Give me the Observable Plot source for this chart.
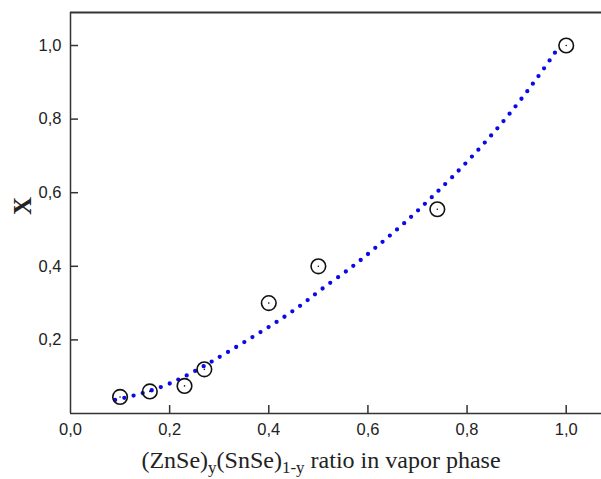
<!DOCTYPE html>
<html>
<head>
<meta charset="utf-8">
<script src="https://cdn.jsdelivr.net/npm/d3@7"></script>
<script src="https://cdn.jsdelivr.net/npm/@observablehq/plot@0.6"></script>
<style>
  html, body { margin: 0; padding: 0; background: #fff; }
  #chart svg { display: block; }
</style>
</head>
<body>
<div id="chart"></div>
<script>
// Tick values
const xTicks = [0, 0.2, 0.4, 0.6, 0.8, 1.0];
const yTicks = [0.2, 0.4, 0.6, 0.8, 1.0];

// Measured points: (ZnSe)y(SnSe)1-y ratio in vapor phase vs X
const vaporRatio = [0.10, 0.16, 0.23, 0.27, 0.40, 0.50, 0.74, 1.00];
const compositionX = [0.045, 0.060, 0.075, 0.120, 0.300, 0.400, 0.555, 1.000];

// Fitted curve (dotted blue)
const fitRatio = [0.090, 0.121, 0.150, 0.184, 0.215, 0.244, 0.276, 0.291, 0.321, 0.352, 0.383, 0.414, 0.444, 0.475, 0.503, 0.552, 0.583, 0.613, 0.644, 0.675, 0.705, 0.767, 0.839, 0.904, 0.960, 0.982];
const fitX =     [0.037, 0.046, 0.057, 0.072, 0.090, 0.110, 0.134, 0.146, 0.170, 0.195, 0.221, 0.247, 0.274, 0.304, 0.335, 0.382, 0.414, 0.448, 0.483, 0.519, 0.557, 0.637, 0.739, 0.843, 0.946, 0.990];

const points = vaporRatio.map((v, i) => ({x: v, y: compositionX[i]}));
const fit = fitRatio.map((v, i) => ({x: v, y: fitX[i]}));

const xMax = 1.0712, yMax = 1.0897;
const fmt = d => d3.format(".1f")(d).replace(".", ",");
const axisColor = "#333";

const svg = Plot.plot({
  width: 601,
  height: 479,
  marginLeft: 70,
  marginRight: 0,
  marginTop: 12,
  marginBottom: 66,
  x: {domain: [0, xMax], axis: null},
  y: {domain: [0, yMax], axis: null},
  style: {fontFamily: "'Liberation Sans', Arial, sans-serif", fontSize: "16px", background: "#fff", color: "#222"},
  marks: [
    // frame lines (left, bottom, top)
    Plot.ruleX([0], {stroke: axisColor, strokeWidth: 1.5}),
    Plot.ruleY([0], {stroke: axisColor, strokeWidth: 1.5}),
    Plot.ruleY([yMax], {stroke: axisColor, strokeWidth: 2}),
    // inward ticks
    Plot.ruleX(xTicks.filter(d => d > 0), {x: d => d, insetTop: 393, stroke: axisColor, strokeWidth: 1.5}),
    Plot.ruleY(yTicks, {y: d => d, insetRight: 523, stroke: axisColor, strokeWidth: 1.5}),
    // tick labels
    Plot.axisX(xTicks, {tickSize: 0, tickPadding: 10, tickFormat: fmt, label: null, fontSize: 16.5, fill: "#222"}),
    Plot.axisY(yTicks, {tickSize: 0, tickPadding: 9, tickFormat: fmt, label: null, fontSize: 16.5, fill: "#222"}),
    // fitted dotted curve
    Plot.line(fit, {x: "x", y: "y", curve: "basis", stroke: "#0a0ae8", strokeWidth: 4.3, strokeDasharray: "0 9.5", strokeLinecap: "round"}),
    // measured points
    Plot.dot(points, {x: "x", y: "y", r: 7.3, stroke: "#111", strokeWidth: 1.6, fill: "none"}),
    Plot.dot(points, {x: "x", y: "y", r: 0.8, fill: "#111", stroke: "none"})
  ]
});

const s = d3.select(svg);
// Y axis title
s.append("text")
  .attr("transform", "translate(22,206) rotate(-90)")
  .attr("text-anchor", "middle")
  .attr("dominant-baseline", "central")
  .attr("font-family", "'Liberation Serif', 'Times New Roman', serif")
  .attr("font-size", 25)
  .attr("font-weight", "bold")
  .attr("fill", "#222")
  .text("X");
// X axis title with subscripts
const t = s.append("text")
  .attr("x", 321)
  .attr("y", 468)
  .attr("text-anchor", "middle")
  .attr("font-family", "'Liberation Serif', 'Times New Roman', serif")
  .attr("font-size", 24)
  .attr("fill", "#222");
t.append("tspan").text("(ZnSe)");
t.append("tspan").attr("dy", 5).attr("font-size", 17).text("y");
t.append("tspan").attr("dy", -5).text("(SnSe)");
t.append("tspan").attr("dy", 5).attr("font-size", 17).text("1-y");
t.append("tspan").attr("dy", -5).text(" ratio in vapor phase");

document.getElementById("chart").appendChild(svg);
</script>
</body>
</html>
